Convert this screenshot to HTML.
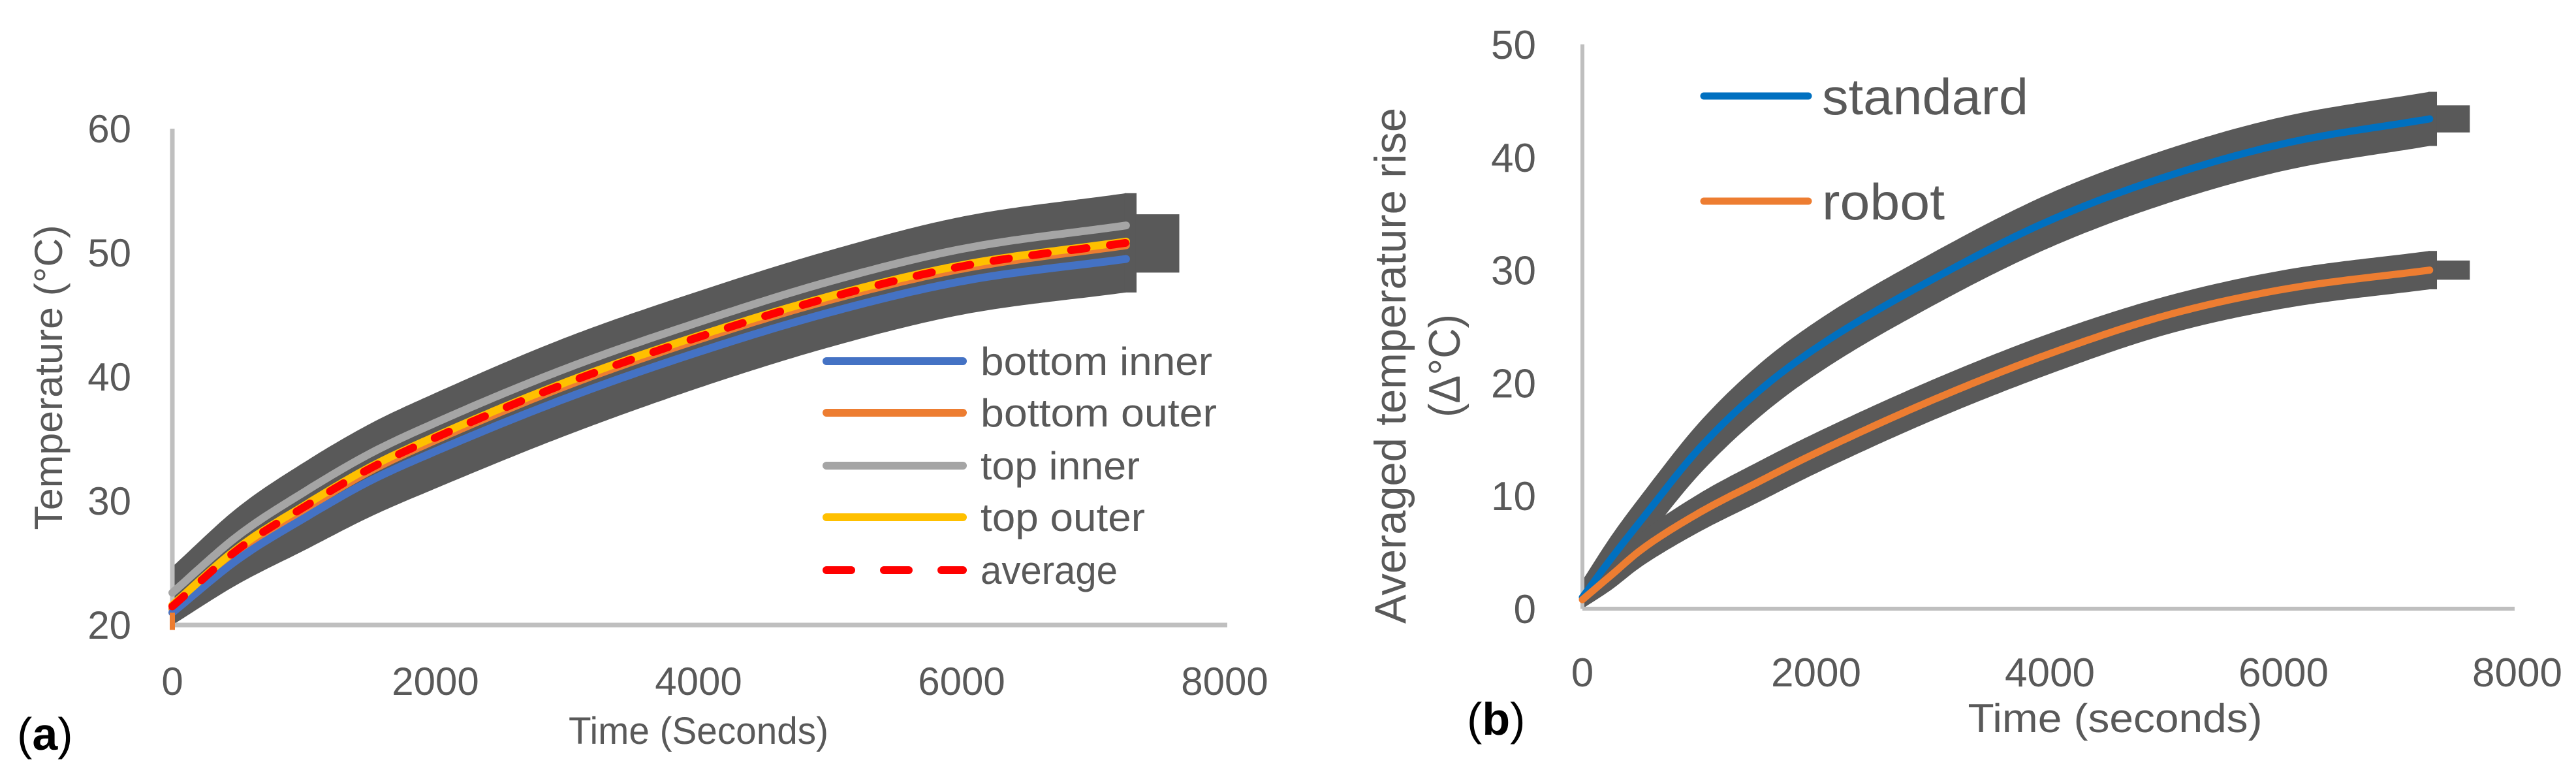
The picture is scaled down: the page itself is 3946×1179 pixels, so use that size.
<!DOCTYPE html>
<html><head><meta charset="utf-8"><style>
html,body{margin:0;padding:0;background:#fff;}
svg{display:block;}
text{fill:#595959;font-family:"Liberation Sans",sans-serif;}
</style></head><body>
<svg id="s" width="3946" height="1179" viewBox="0 0 3946 1179" xmlns="http://www.w3.org/2000/svg">
<g id="ga"></g>
<g id="gb"></g>
</svg>
<script>
// ---- chart (a) data ----
const aTimes = [0,500,1000,1500,2000,3000,4000,5000,6000,7250];
const aTopInner = [22.6,27.2,30.7,33.8,36.3,40.7,44.4,47.7,50.3,52.2];
const aBottomInner = [21,25.3,28.6,31.6,34.0,38.3,42.0,45.2,47.7,49.5];
const aTopOuter = [21.6,26.2,29.6,32.7,35.2,39.6,43.3,46.5,49.0,50.9];
const aBottomOuter = [21.3,25.9,29.3,32.4,34.9,39.3,43.0,46.2,48.7,50.6];
const aAverage = [21.5,26.1,29.5,32.6,35.1,39.5,43.2,46.4,48.9,50.8];
const aBandTop = [24.7,29.5,33.1,36.2,38.7,43.2,46.9,50.2,52.9,54.8];
const aBandBottom = [20,23.3,26,28.7,31,35.3,39.1,42.4,45,46.8];
const aYTicks = [20,30,40,50,60];
const aXTicks = [0,2000,4000,6000,8000];
const aLegend = ["bottom inner","bottom outer","top inner","top outer","average"];
// ---- chart (b) data ----
const bStdTimes = [0,250,500,1000,1500,2000,3000,4000,5000,6000,7250];
const bStandard = [1,4.5,7.8,14.2,19.2,23.1,29.2,34.4,38.3,41.2,43.4];
const bStdErr = [1.5,2,2.2,2.3,2.35,2.35,2.35,2.4,2.4,2.4,2.4];
const bRobTimes = [0,250,500,1000,1500,2000,3000,4000,5000,6000,7250];
const bRobot = [0.8,3.0,5.2,8.5,11.2,13.8,18.5,22.6,26.0,28.3,30];
const bRobErr = [0.8,1.3,1.5,1.7,1.8,1.8,1.8,1.8,1.7,1.7,1.7];
const bYTicks = [0,10,20,30,40,50];
const bXTicks = [0,2000,4000,6000,8000];
const bLegend = ["standard","robot"];

const NS="http://www.w3.org/2000/svg";
function mk(parent,tag,attrs,txt){const e=document.createElementNS(NS,tag);for(const k in attrs)e.setAttribute(k,attrs[k]);if(txt!==undefined)e.textContent=txt;parent.appendChild(e);return e;}
function interp(xs,ys){const n=xs.length,d=[],m=[];for(let i=0;i<n-1;i++)d.push((ys[i+1]-ys[i])/(xs[i+1]-xs[i]));
m[0]=d[0];m[n-1]=d[n-2];for(let i=1;i<n-1;i++){m[i]=(d[i-1]*d[i]<=0)?0:(d[i-1]+d[i])/2;}
for(let i=0;i<n-1;i++){if(d[i]===0){m[i]=m[i+1]=0;continue;}const a=m[i]/d[i],b=m[i+1]/d[i],s=a*a+b*b;if(s>9){const t=3/Math.sqrt(s);m[i]=t*a*d[i];m[i+1]=t*b*d[i];}}
return function(x){let i=0;while(i<n-2&&x>xs[i+1])i++;const h=xs[i+1]-xs[i],t=(x-xs[i])/h,t2=t*t,t3=t2*t;
return (2*t3-3*t2+1)*ys[i]+(t3-2*t2+t)*h*m[i]+(-2*t3+3*t2)*ys[i+1]+(t3-t2)*h*m[i+1];};}
function samp(xs,ys,sx,sy){const f=interp(xs,ys),a=xs[0],b=xs[xs.length-1],out=[];for(let k=0;k<=240;k++){const x=a+(b-a)*k/240;out.push([sx(x),sy(f(x))]);}return out;}
function poly(p){return "M"+p.map(q=>q[0].toFixed(1)+","+q[1].toFixed(1)).join(" L");}
function polyRev(p){return "L"+p.slice().reverse().map(q=>q[0].toFixed(1)+","+q[1].toFixed(1)).join(" L");}

// ===== chart a =====
(function(){
const g=document.getElementById('ga');
const X0=264,X1=1876,Y0=957,Y1=197;
const sx=t=>X0+(t/8000)*(X1-X0), sy=v=>Y0-(v-20)/40*(Y0-Y1);
let e;
const top=samp(aTimes,aBandTop,sx,sy), bot=samp(aTimes,aBandBottom,sx,sy);
e=mk(g,'path',{d:poly(top)+" "+polyRev(bot)+" Z",fill:'#595959'});


const tEnd=aTimes[aTimes.length-1];
e=mk(g,'rect',{x:sx(tEnd)-2,y:sy(aBandTop[aBandTop.length-1]),width:sx(7330)-sx(tEnd)+2,height:sy(aBandBottom[aBandBottom.length-1])-sy(aBandTop[aBandTop.length-1]),fill:'#595959'});


e=mk(g,'rect',{x:sx(7330)-1,y:sy(53.1),width:sx(7660)-sx(7330),height:sy(48.4)-sy(53.1),fill:'#595959'});


e=mk(g,'line',{x1:X0,y1:Y1,x2:X0,y2:Y0,stroke:'#bfbfbf','stroke-width':7});


e=mk(g,'line',{x1:X0,y1:Y0,x2:X1+4,y2:Y0,stroke:'#bfbfbf','stroke-width':7});


const ser=[[aBottomOuter,'#ED7D31',null,'bottom-outer-line'],[aTopInner,'#A5A5A5',null,'top-inner-line'],[aBottomInner,'#4472C4',null,'bottom-inner-line'],[aTopOuter,'#FFC000',null,'top-outer-line'],[aAverage,'#FF0000','24 36','average-line']];
ser.forEach(s=>{const a={d:poly(samp(aTimes,s[0],sx,sy)),fill:'none',stroke:s[1],'stroke-width':12,'stroke-linecap':'round','stroke-linejoin':'round'};if(s[2])a['stroke-dasharray']=s[2];e=mk(g,'path',a);

});
e=mk(g,'rect',{x:sx(0)-4,y:sy(21),width:8,height:sy(19.6)-sy(21),fill:'#ED7D31'});


aYTicks.forEach(v=>{e=mk(g,'text',{x:201,y:sy(v)+21,'text-anchor':'end','font-size':60},String(v));

});
aXTicks.forEach(t=>{e=mk(g,'text',{x:sx(t),y:1064,'text-anchor':'middle','font-size':60},String(t));

});
e=mk(g,'text',{x:1070,y:1139,'text-anchor':'middle','font-size':58,textLength:398,lengthAdjust:'spacingAndGlyphs'},'Time (Seconds)');


e=mk(g,'text',{x:0,y:0,'text-anchor':'middle','font-size':60,transform:'translate(95,578) rotate(-90)',textLength:467,lengthAdjust:'spacingAndGlyphs'},'Temperature (°C)');


e=mk(g,'text',{x:26,y:1148,'font-size':70,'font-family':'Liberation Serif, serif',style:'fill:#000'},'');


mk(e,'tspan',{},'(');mk(e,'tspan',{'font-weight':'bold'},'a');mk(e,'tspan',{},')');
const cols=['#4472C4','#ED7D31','#A5A5A5','#FFC000','#FF0000'];
const rows=[553,632,713,792,873];
aLegend.forEach((n,i)=>{const lg=mk(g,'g',{});


const a={x1:1266,y1:rows[i],x2:1475,y2:rows[i],stroke:cols[i],'stroke-width':12,'stroke-linecap':'round'};if(i===4)a['stroke-dasharray']='38 50';
mk(lg,'line',a);mk(lg,'text',{x:1502,y:rows[i]+21,'font-size':60,textLength:[355,362,244,252,210][i],lengthAdjust:'spacingAndGlyphs'},n);});
})();

// ===== chart b =====
(function(){
const g=document.getElementById('gb');
const X0=2424,X1=3856,Y0=932,Y1=68;
const sx=t=>X0+(t/8000)*(X1-X0), sy=v=>Y0-v/50*(Y0-Y1);
let e;
function band(ts,vs,er,name){const top=samp(ts,vs.map((v,i)=>v+er[i]),sx,sy),bot=samp(ts,vs.map((v,i)=>Math.max(0,v-er[i])),sx,sy);
e=mk(g,'path',{d:poly(top)+" "+polyRev(bot)+" Z",fill:'#595959'});


const tE=ts[ts.length-1],vE=vs[vs.length-1],eE=er[er.length-1];
e=mk(g,'rect',{x:sx(tE)-2,y:sy(vE+eE),width:sx(7313)-sx(tE)+2,height:sy(vE-eE)-sy(vE+eE),fill:'#595959'});


e=mk(g,'rect',{x:sx(7313)-1,y:sy(vE+eE*0.5),width:sx(7600)-sx(7313),height:sy(vE-eE*0.5)-sy(vE+eE*0.5),fill:'#595959'});

}
band(bStdTimes,bStandard,bStdErr,'standard-error-band');
band(bRobTimes,bRobot,bRobErr,'robot-error-band');
e=mk(g,'line',{x1:X0,y1:Y1,x2:X0,y2:Y0,stroke:'#bfbfbf','stroke-width':6});


e=mk(g,'line',{x1:X0,y1:Y0,x2:X1-4,y2:Y0,stroke:'#bfbfbf','stroke-width':6});


e=mk(g,'path',{d:poly(samp(bStdTimes,bStandard,sx,sy)),fill:'none',stroke:'#0070C0','stroke-width':11,'stroke-linecap':'round','stroke-linejoin':'round'});


e=mk(g,'path',{d:poly(samp(bRobTimes,bRobot,sx,sy)),fill:'none',stroke:'#ED7D31','stroke-width':11,'stroke-linecap':'round','stroke-linejoin':'round'});


bYTicks.forEach(v=>{e=mk(g,'text',{x:2353,y:sy(v)+22,'text-anchor':'end','font-size':62},String(v));

});
bXTicks.forEach(t=>{e=mk(g,'text',{x:sx(t),y:1051,'text-anchor':'middle','font-size':62},String(t));

});
e=mk(g,'text',{x:3240,y:1121,'text-anchor':'middle','font-size':62,textLength:451,lengthAdjust:'spacingAndGlyphs'},'Time (seconds)');


e=mk(g,'text',{x:0,y:0,'text-anchor':'middle','font-size':68,transform:'translate(2153,560) rotate(-90)',textLength:790,lengthAdjust:'spacingAndGlyphs'},'Averaged temperature rise');


e=mk(g,'text',{x:0,y:0,'text-anchor':'middle','font-size':68,transform:'translate(2236,560) rotate(-90)',textLength:158,lengthAdjust:'spacingAndGlyphs'},'(Δ°C)');


e=mk(g,'text',{x:2247,y:1125,'font-size':70,'font-family':'Liberation Serif, serif',style:'fill:#000'},'');


mk(e,'tspan',{},'(');mk(e,'tspan',{'font-weight':'bold'},'b');mk(e,'tspan',{},')');
const cols=['#0070C0','#ED7D31'],rows=[147,308];
bLegend.forEach((n,i)=>{const lg=mk(g,'g',{});


mk(lg,'line',{x1:2610,y1:rows[i],x2:2770,y2:rows[i],stroke:cols[i],'stroke-width':11,'stroke-linecap':'round'});
mk(lg,'text',{x:2791,y:rows[i]+28,'font-size':78,textLength:[316,188][i],lengthAdjust:'spacingAndGlyphs'},n);});
})();
</script>
</body></html>
